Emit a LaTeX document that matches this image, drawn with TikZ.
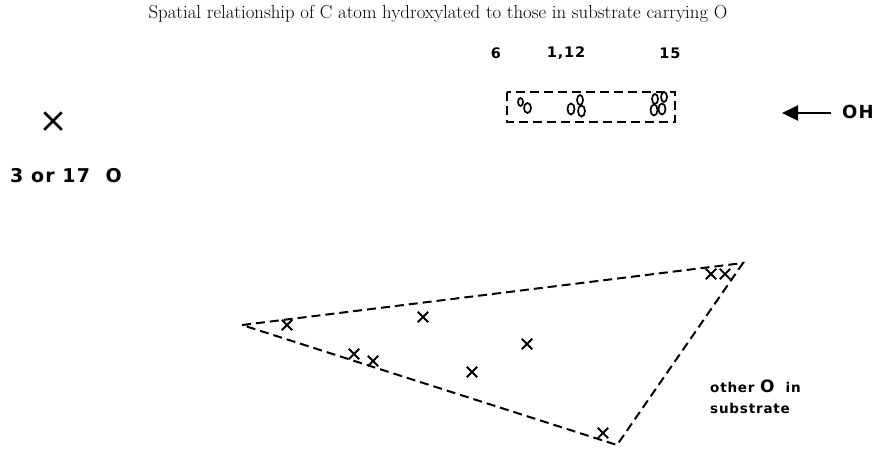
\documentclass[tikz,border=0pt]{standalone}
\usepackage{fontspec}
\usepackage{tikz}
\usetikzlibrary{arrows.meta, shapes.misc, positioning}
\newfontfamily\lblfont[LetterSpace=6]{DejaVu Sans Bold}

\begin{document}
\begin{tikzpicture}[x=1pt, y=-1pt,
    dashline/.style={dashed, dash pattern=on 9pt off 5pt, line width=2pt},
    xmark/.style={cross out, draw, line width=1.9pt, minimum size=8.5pt, inner sep=0pt},
    oatom/.style={line width=1.7pt},
    lbl/.style={inner sep=0pt, font=\lblfont}]
  \useasboundingbox (0, 0) rectangle (877, 448);
  % title
  \node[inner sep=0pt, font=\fontsize{18.8}{22}\selectfont] (title) at (438, 14)
    {Spatial relationship of C atom hydroxylated to those in substrate carrying O};
  % hydroxylated C
  \node[cross out, draw, line width=2.5pt, minimum size=15pt, inner sep=0pt] (cx) at (53, 121) {};
  \node[lbl, anchor=base west, font=\lblfont\fontsize{19}{22}\selectfont] (ox) at (10, 182) {3 or 17~~O};
  % box with O atoms
  \draw[dashline] (507, 92) rectangle (675, 122);
  \node[lbl, font=\lblfont\fontsize{14.5}{17}\selectfont] (p6) at (496, 53) {6};
  \node[lbl, font=\lblfont\fontsize{14.5}{17}\selectfont] (p12) at (566, 53) {1,12};
  \node[lbl, font=\lblfont\fontsize{14.5}{17}\selectfont] (p15) at (670, 53) {15};
  \draw[oatom] (520.5, 102) ellipse (2.5 and 4);
  \draw[oatom] (527.5, 108) ellipse (3.5 and 5);
  \draw[oatom] (571, 109) ellipse (3.5 and 5.5);
  \draw[oatom] (580, 100) ellipse (3 and 5);
  \draw[oatom] (581.5, 111) ellipse (3.5 and 5.5);
  \draw[oatom] (655, 99) ellipse (3 and 5);
  \draw[oatom] (654, 110) ellipse (3.5 and 5.5);
  \draw[oatom] (664, 97) ellipse (3 and 5);
  \draw[oatom] (662, 109) ellipse (3.5 and 5.5);
  % incoming OH
  \node[lbl, anchor=west, font=\lblfont\fontsize{18}{21}\selectfont] (oh) at (842, 112) {OH};
  \coordinate (tip) at (782, 113);
  \draw[line width=2pt, -{Triangle[length=16pt, width=15pt]}] (oh.west) ++(-11, 1) -- (tip);
  % other O in substrate
  \coordinate (va) at (242, 325);
  \coordinate (vb) at (743, 263);
  \coordinate (vc) at (617, 445);
  \draw[dashline] (va) -- (vb) -- (vc) -- cycle;
  \foreach \i/\p in {1/{287,325}, 2/{423,317}, 3/{354,354}, 4/{373,361}, 5/{472,372},
                     6/{527,344}, 7/{711,274}, 8/{725,274}, 9/{603,433}}
    \node[xmark] (o\i) at (\p) {};
  \node[lbl, anchor=base west, font=\lblfont\fontsize{13.5}{16}\selectfont] (other) at (710, 392)
    {other {\fontsize{17}{20}\selectfont O}~~in};
  \node[lbl, anchor=base west, font=\lblfont\fontsize{13.5}{16}\selectfont] (subs) at (710, 413) {substrate};
\end{tikzpicture}
\end{document}
